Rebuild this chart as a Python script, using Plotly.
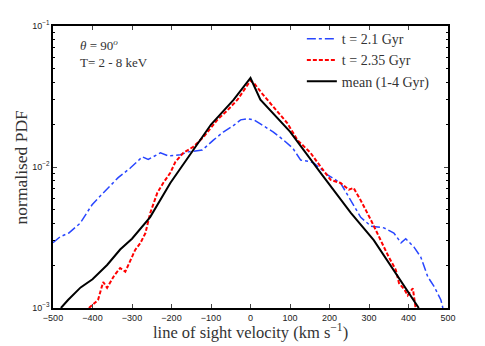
import plotly.graph_objects as go

# t = 2.1 Gyr
blue_v = [-500, -482, -460, -444, -431, -415, -401, -381, -355, -335, -305, -290, -274, -259, -245,
          -228, -208, -178, -157, -122, -94, -69, -45, -25, -8, 10, 25, 58, 84, 107, 127, 145, 160,
          195, 228, 254, 279, 305, 338, 363, 381, 393, 414, 431, 449, 465, 482, 487]
blue_p = [0.0029, 0.0032, 0.0034, 0.0037, 0.0040, 0.0047, 0.0054, 0.0062, 0.0074, 0.0084, 0.0098,
          0.0108, 0.0118, 0.0113, 0.0118, 0.0126, 0.0120, 0.0122, 0.0128, 0.0132, 0.0155, 0.0177,
          0.0195, 0.0216, 0.0220, 0.0215, 0.0202, 0.0177, 0.0155, 0.0136, 0.0112, 0.0110, 0.0107,
          0.0088, 0.0077, 0.0058, 0.0044, 0.0038, 0.0037, 0.0034, 0.0029, 0.0031, 0.0027, 0.0023,
          0.00166, 0.00142, 0.00114, 0.0010]

# t = 2.35 Gyr
red_v = [-409, -386, -373, -363, -345, -330, -317, -300, -292, -279, -266, -254, -236, -221, -203,
         -190, -170, -145, -119, -84, -60, -33, -10, 0, 10, 30, 58, 93, 119, 152, 178, 203, 228,
         249, 261, 279, 305, 330, 350, 368, 376, 390, 398, 411, 418]
red_p = [0.0010, 0.00114, 0.00153, 0.00139, 0.0017, 0.00192, 0.00181, 0.0023, 0.00258, 0.00288,
         0.0034, 0.0047, 0.00655, 0.0077, 0.0091, 0.0109, 0.0126, 0.0139, 0.0163, 0.0216, 0.025,
         0.030, 0.037, 0.041, 0.039, 0.033, 0.0267, 0.0205, 0.0155, 0.0126, 0.0100, 0.0081, 0.0077,
         0.0069, 0.0071, 0.0058, 0.0042, 0.0030, 0.0023, 0.00186, 0.0015, 0.00135, 0.00123,
         0.00138, 0.0010]

# mean (1-4 Gyr)
black_v = [-480, -462, -430, -400, -363, -330, -300, -254, -203, -145, -100, -43, 0, 25, 60, 100,
           178, 254, 312, 363, 411, 426]
black_p = [0.0010, 0.00114, 0.0014, 0.0016, 0.00202, 0.0026, 0.0031, 0.00441, 0.0077, 0.0132,
           0.0200, 0.0299, 0.0428, 0.0300, 0.0235, 0.0178, 0.00906, 0.00472, 0.00303, 0.00186,
           0.00115, 0.0010]

x_ticks = [-500, -400, -300, -200, -100, 0, 100, 200, 300, 400, 500]
y_ticks = [0.001, 0.01, 0.1]
y_labels = ['10<sup>−3</sup>', '10<sup>−2</sup>', '10<sup>−1</sup>']
y_minor = [0.002, 0.003, 0.004, 0.005, 0.006, 0.007, 0.008, 0.009,
           0.02, 0.03, 0.04, 0.05, 0.06, 0.07, 0.08, 0.09]

serif = 'Liberation Serif'
sans = 'Liberation Sans'

fig = go.Figure()
fig.add_trace(go.Scatter(x=blue_v, y=blue_p, mode='lines', name='t = 2.1 Gyr',
                         line=dict(color='#2846ff', width=1.5, dash='dashdot')))
fig.add_trace(go.Scatter(x=red_v, y=red_p, mode='lines', name='t = 2.35 Gyr',
                         line=dict(color='#ff0000', width=2, dash='4px,2px')))
fig.add_trace(go.Scatter(x=black_v, y=black_p, mode='lines', name='mean (1-4 Gyr)',
                         line=dict(color='black', width=2)))

# text in the upper left corner
fig.add_annotation(x=0.063, y=0.933, xref='paper', yref='paper', xanchor='left', yanchor='middle',
                   text='<i>θ</i> = 90<sup><i>o</i></sup>', showarrow=False,
                   font=dict(family=serif, size=13, color='#333'))
fig.add_annotation(x=0.063, y=0.872, xref='paper', yref='paper', xanchor='left', yanchor='middle',
                   text='T= 2 - 8 keV', showarrow=False,
                   font=dict(family=serif, size=13, color='#333'))

# axis titles placed as annotations
fig.add_annotation(x=0.5, y=-0.082, xref='paper', yref='paper', xanchor='center', yanchor='middle',
                   text='line of sight velocity (km s<sup>−1</sup>)', showarrow=False,
                   font=dict(family=serif, size=16.5, color='#333'))
fig.add_annotation(x=-0.08, y=0.5, xref='paper', yref='paper', xanchor='center', yanchor='middle',
                   text='normalised PDF', showarrow=False, textangle=-90,
                   font=dict(family=serif, size=17.5, color='#333'))

fig.update_layout(
    width=485, height=346,
    margin=dict(l=53, r=37, t=26, b=38),
    paper_bgcolor='white', plot_bgcolor='white',
    showlegend=True,
    legend=dict(x=0.63, y=1.01, xanchor='left', yanchor='top', bgcolor='rgba(0,0,0,0)',
                font=dict(family=serif, size=14, color='#333'), itemwidth=30,
                tracegroupgap=0),
    xaxis=dict(range=[-500, 500], tickvals=x_ticks, ticks='inside', ticklen=4,
               showline=True, linecolor='black', linewidth=1.5, mirror='allticks',
               showgrid=False, zeroline=False, automargin=False,
               tickfont=dict(family=sans, size=9, color='#222')),
    yaxis=dict(type='log', range=[-3, -1], tickvals=y_ticks, ticktext=y_labels,
               ticks='inside', ticklen=4, showline=True, linecolor='black', linewidth=1.5,
               mirror='allticks', showgrid=False, zeroline=False, automargin=False,
               minor=dict(ticks='inside', ticklen=2, tickcolor='black', tickvals=y_minor),
               tickfont=dict(family=sans, size=9, color='#222')),
)

# remove the browser's default page margin so the figure sits at the window corner
fig.write_html('out.html', config={'displayModeBar': False},
               post_script="document.body.style.margin='0';")
